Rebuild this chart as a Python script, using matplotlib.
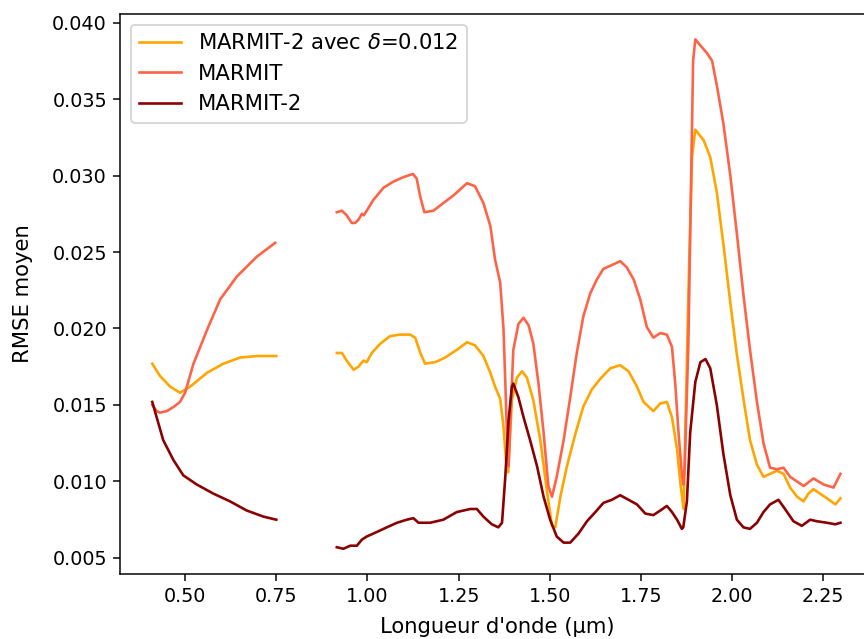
import numpy as np
import matplotlib
matplotlib.use("Agg")
import matplotlib.pyplot as plt

# ---- data ----
x_marmit = [0.41, 0.422, 0.431, 0.45, 0.47, 0.486, 0.50, 0.523, 0.56, 0.596, 0.642, 0.697, 0.747,
            np.nan,
            0.916, 0.930, 0.943, 0.957, 0.966, 0.975, 0.985, 0.990, 0.998, 1.016, 1.044, 1.071, 1.099,
            1.125, 1.135, 1.145, 1.156, 1.181, 1.208, 1.236, 1.273, 1.295, 1.318, 1.337, 1.350, 1.364,
            1.373, 1.378, 1.382, 1.387, 1.392, 1.400, 1.414, 1.428, 1.442, 1.455, 1.469, 1.483, 1.496,
            1.506, 1.519, 1.538, 1.556, 1.574, 1.592, 1.611, 1.629, 1.647, 1.666, 1.693, 1.711, 1.730,
            1.748, 1.766, 1.784, 1.803, 1.821, 1.835, 1.844, 1.853, 1.862, 1.866, 1.870, 1.880, 1.887,
            1.893, 1.899, 1.913, 1.931, 1.945, 1.958, 1.976, 1.995, 2.013, 2.031, 2.049, 2.068, 2.086,
            2.104, 2.123, 2.141, 2.159, 2.178, 2.196, 2.223, 2.251, 2.278, 2.297]
y_marmit = [0.0150, 0.0146, 0.0145, 0.0146, 0.0149, 0.0152, 0.0158, 0.0177, 0.0199, 0.0219, 0.0234, 0.0247, 0.0256,
            np.nan,
            0.0276, 0.0277, 0.0274, 0.0269, 0.0269, 0.0271, 0.0275, 0.0274, 0.0277, 0.0284, 0.0292, 0.0296, 0.0299,
            0.0301, 0.0298, 0.0286, 0.0276, 0.0277, 0.0282, 0.0287, 0.0295, 0.0293, 0.0282, 0.0267, 0.0245, 0.0230,
            0.0200, 0.0165, 0.0135, 0.0110, 0.0140, 0.0186, 0.0203, 0.0207, 0.0202, 0.0190, 0.0164, 0.0132, 0.0097,
            0.0090, 0.0103, 0.0127, 0.0155, 0.0184, 0.0208, 0.0223, 0.0232, 0.0239, 0.0241, 0.0244, 0.0240, 0.0232,
            0.0219, 0.0201, 0.0194, 0.0197, 0.0196, 0.0188, 0.0164, 0.0132, 0.0105, 0.0098, 0.0110, 0.0190, 0.0290,
            0.0375, 0.0389, 0.0385, 0.0380, 0.0375, 0.0359, 0.0334, 0.0300, 0.0262, 0.0222, 0.0186, 0.0152, 0.0125,
            0.0109, 0.0108, 0.0109, 0.0103, 0.0100, 0.0097, 0.0102, 0.0098, 0.0096, 0.0105]

x_delta = [0.41, 0.431, 0.459, 0.486, 0.514, 0.56, 0.605, 0.651, 0.697, 0.75,
           np.nan,
           0.916, 0.930, 0.943, 0.962, 0.975, 0.989, 0.998, 1.012, 1.035, 1.062, 1.090, 1.117, 1.131,
           1.145, 1.158, 1.186, 1.213, 1.245, 1.273, 1.295, 1.318, 1.337, 1.350, 1.364, 1.373, 1.380,
           1.386, 1.396, 1.410, 1.424, 1.437, 1.455, 1.474, 1.492, 1.506, 1.515, 1.529, 1.547, 1.570,
           1.592, 1.615, 1.638, 1.666, 1.693, 1.716, 1.739, 1.757, 1.784, 1.803, 1.821, 1.835, 1.849,
           1.858, 1.867, 1.880, 1.890, 1.899, 1.922, 1.940, 1.958, 1.976, 1.995, 2.013, 2.031, 2.049,
           2.068, 2.086, 2.104, 2.123, 2.141, 2.159, 2.178, 2.196, 2.209, 2.223, 2.241, 2.260, 2.283, 2.297]
y_delta = [0.0177, 0.0169, 0.0162, 0.0158, 0.0162, 0.0171, 0.0177, 0.0181, 0.0182, 0.0182,
           np.nan,
           0.0184, 0.0184, 0.0179, 0.0173, 0.0175, 0.0179, 0.0178, 0.0184, 0.0190, 0.0195, 0.0196, 0.0196, 0.0194,
           0.0184, 0.0177, 0.0178, 0.0181, 0.0186, 0.0191, 0.0189, 0.0182, 0.0171, 0.0162, 0.0154, 0.0136, 0.0114,
           0.0106, 0.0153, 0.0168, 0.0172, 0.0168, 0.0153, 0.0127, 0.0094, 0.0071, 0.0070, 0.0090, 0.0110, 0.0131,
           0.0149, 0.0160, 0.0167, 0.0174, 0.0176, 0.0172, 0.0162, 0.0152, 0.0146, 0.0151, 0.0152, 0.0142, 0.0121,
           0.0099, 0.0082, 0.0222, 0.0312, 0.0330, 0.0323, 0.0312, 0.0289, 0.0255, 0.0217, 0.0183, 0.0154, 0.0127,
           0.0111, 0.0103, 0.0105, 0.0107, 0.0105, 0.0096, 0.0090, 0.0087, 0.0092, 0.0095, 0.0092, 0.0089, 0.0085, 0.0089]

x_marmit2 = [0.41, 0.422, 0.44, 0.468, 0.495, 0.532, 0.578, 0.623, 0.669, 0.715, 0.75,
             np.nan,
             0.916, 0.934, 0.953, 0.971, 0.985, 0.998, 1.026, 1.053, 1.081, 1.108, 1.126, 1.140, 1.172,
             1.208, 1.245, 1.282, 1.300, 1.318, 1.341, 1.359, 1.369, 1.378, 1.387, 1.396, 1.400, 1.414,
             1.428, 1.446, 1.465, 1.483, 1.501, 1.519, 1.538, 1.556, 1.579, 1.602, 1.625, 1.647, 1.670,
             1.693, 1.716, 1.739, 1.762, 1.784, 1.803, 1.821, 1.835, 1.849, 1.862, 1.866, 1.876, 1.885,
             1.899, 1.913, 1.927, 1.940, 1.958, 1.976, 1.995, 2.013, 2.031, 2.049, 2.068, 2.086, 2.104,
             2.127, 2.145, 2.168, 2.191, 2.214, 2.232, 2.260, 2.283, 2.297]
y_marmit2 = [0.0152, 0.0142, 0.0127, 0.0114, 0.0104, 0.0098, 0.0092, 0.0087, 0.0081, 0.0077, 0.0075,
             np.nan,
             0.0057, 0.0056, 0.0058, 0.0058, 0.0062, 0.0064, 0.0067, 0.0070, 0.0073, 0.0075, 0.0076, 0.0073, 0.0073,
             0.0075, 0.0080, 0.0082, 0.0082, 0.0077, 0.0072, 0.0070, 0.0073, 0.0103, 0.0140, 0.0162, 0.0164, 0.0155,
             0.0142, 0.0127, 0.0110, 0.0090, 0.0075, 0.0064, 0.0060, 0.0060, 0.0066, 0.0074, 0.0080, 0.0086, 0.0088,
             0.0091, 0.0088, 0.0085, 0.0079, 0.0078, 0.0081, 0.0084, 0.0080, 0.0075, 0.0069, 0.0070, 0.0087, 0.0132,
             0.0165, 0.0178, 0.0180, 0.0174, 0.0150, 0.0118, 0.0091, 0.0075, 0.0070, 0.0069, 0.0073, 0.0080, 0.0085,
             0.0088, 0.0082, 0.0074, 0.0071, 0.0075, 0.0074, 0.0073, 0.0072, 0.0073]

labels = ["MARMIT-2 avec $\\delta$=0.012", "MARMIT", "MARMIT-2"]
colors = ["orange", "tomato", "darkred"]

fig = plt.figure(figsize=(6.4, 639 / 135), dpi=135)
ax = fig.add_axes([120 / 864, 65 / 639, 754 / 864, 560 / 639])

ax.plot(x_delta, y_delta, color=colors[0], label=labels[0], lw=1.4)
ax.plot(x_marmit, y_marmit, color=colors[1], label=labels[1], lw=1.4)
ax.plot(x_marmit2, y_marmit2, color=colors[2], label=labels[2], lw=1.4)

ax.set_xlim(0.3215, 2.389)
ax.set_ylim(0.00395, 0.04056)
ax.set_xticks([0.5, 0.75, 1.0, 1.25, 1.5, 1.75, 2.0, 2.25])
ax.set_yticks([0.005, 0.010, 0.015, 0.020, 0.025, 0.030, 0.035, 0.040])
ax.tick_params(labelsize=10.2)
ax.set_xlabel("Longueur d'onde (µm)", fontsize=11.3, labelpad=6)
ax.set_ylabel("RMSE moyen", fontsize=11.3, labelpad=10)
ax.legend(loc="upper left", fontsize=11.25)

fig.savefig("out.png", dpi=135)
